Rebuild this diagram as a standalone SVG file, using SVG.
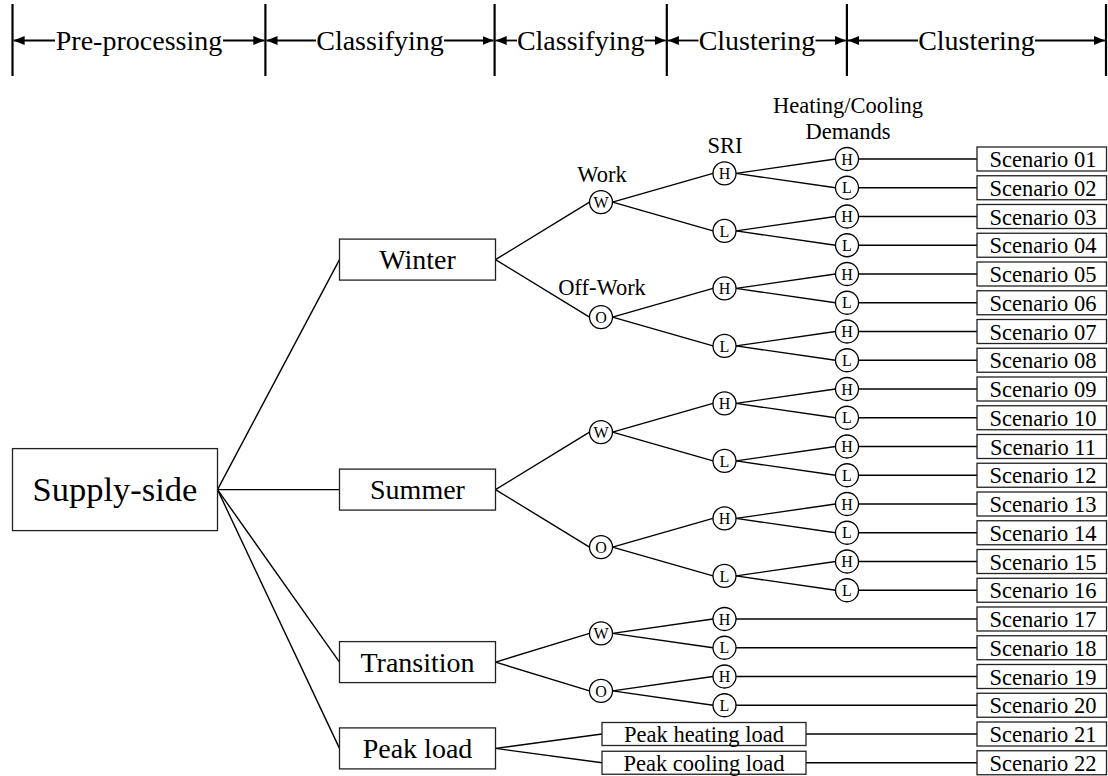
<svg xmlns="http://www.w3.org/2000/svg" width="1108" height="776" viewBox="0 0 1108 776">
<style>
.t{font-family:"Liberation Serif","Times New Roman",serif;fill:#000;text-anchor:middle}
.h{font-size:28px}
.s{font-size:28px}
.big{font-size:34.5px}
.m{font-size:22.5px}
.cl{font-size:16px}
.box{fill:#fff;stroke:#222;stroke-width:1.3}
.c{fill:#fff;stroke:#000;stroke-width:1.3}
.ln{stroke:#000;stroke-width:1.4;fill:none}
.vl{stroke:#000;stroke-width:2.2}
.ar{stroke:#000;stroke-width:1.8;marker-end:url(#ah)}
</style>
<defs>
<marker id="ah" markerUnits="userSpaceOnUse" markerWidth="12" markerHeight="9" refX="11" refY="4.5" orient="auto"><path d="M0,0 L11,4.5 L0,9 z" fill="#000"/></marker>
</defs>
<rect width="1108" height="776" fill="#fff"/>

<g id="header">
<line class="vl" x1="12.5" y1="4" x2="12.5" y2="76"/>
<line class="vl" x1="265.4" y1="4" x2="265.4" y2="76"/>
<line class="vl" x1="494.6" y1="4" x2="494.6" y2="76"/>
<line class="vl" x1="666.8" y1="4" x2="666.8" y2="76"/>
<line class="vl" x1="846.9" y1="4" x2="846.9" y2="76"/>
<line class="vl" x1="1106" y1="4" x2="1106" y2="76"/>
<line class="ar" x1="55" y1="40.5" x2="13.6" y2="40.5"/>
<line class="ar" x1="223" y1="40.5" x2="264.3" y2="40.5"/>
<text class="t h" x="139" y="50">Pre-processing</text>
<line class="ar" x1="316" y1="40.5" x2="266.5" y2="40.5"/>
<line class="ar" x1="444" y1="40.5" x2="493.5" y2="40.5"/>
<text class="t h" x="380" y="50">Classifying</text>
<line class="ar" x1="517" y1="40.5" x2="495.7" y2="40.5"/>
<line class="ar" x1="644.5" y1="40.5" x2="665.7" y2="40.5"/>
<text class="t h" x="580.7" y="50">Classifying</text>
<line class="ar" x1="698.5" y1="40.5" x2="667.9" y2="40.5"/>
<line class="ar" x1="815.5" y1="40.5" x2="845.8" y2="40.5"/>
<text class="t h" x="757" y="50">Clustering</text>
<line class="ar" x1="918" y1="40.5" x2="848" y2="40.5"/>
<line class="ar" x1="1035" y1="40.5" x2="1104.9" y2="40.5"/>
<text class="t h" x="976.5" y="50">Clustering</text>
</g>

<g id="labels">
<text class="t m" x="602" y="181.5">Work</text>
<text class="t m" x="602" y="295">Off-Work</text>
<text class="t m" x="725" y="152.5">SRI</text>
<text class="t m" x="848" y="113">Heating/Cooling</text>
<text class="t m" x="848" y="139.3">Demands</text>
</g>

<g id="connectors" class="ln">
<line x1="217.5" y1="489.6" x2="339.5" y2="259.6"/>
<line x1="217.5" y1="489.6" x2="339.5" y2="489.6"/>
<line x1="217.5" y1="489.6" x2="339.5" y2="662.1"/>
<line x1="217.5" y1="489.6" x2="339.5" y2="748.4"/>

<line x1="495.5" y1="259.6" x2="589.5" y2="202.1"/>
<line x1="495.5" y1="259.6" x2="589.5" y2="317.1"/>
<line x1="495.5" y1="489.6" x2="589.5" y2="432.1"/>
<line x1="495.5" y1="489.6" x2="589.5" y2="547.1"/>
<line x1="495.5" y1="662.1" x2="589.5" y2="633.4"/>
<line x1="495.5" y1="662.1" x2="589.5" y2="690.9"/>
<line x1="495.5" y1="748.4" x2="602" y2="734"/>
<line x1="495.5" y1="748.4" x2="602" y2="762.75"/>

<line x1="612.5" y1="202.1" x2="713" y2="173.4"/>
<line x1="612.5" y1="202.1" x2="713" y2="230.9"/>
<line x1="612.5" y1="317.1" x2="713" y2="288.4"/>
<line x1="612.5" y1="317.1" x2="713" y2="345.9"/>
<line x1="612.5" y1="432.1" x2="713" y2="403.4"/>
<line x1="612.5" y1="432.1" x2="713" y2="460.9"/>
<line x1="612.5" y1="547.1" x2="713" y2="518.4"/>
<line x1="612.5" y1="547.1" x2="713" y2="575.9"/>
<line x1="612.5" y1="633.4" x2="713" y2="619"/>
<line x1="612.5" y1="633.4" x2="713" y2="647.75"/>
<line x1="612.5" y1="690.9" x2="713" y2="676.5"/>
<line x1="612.5" y1="690.9" x2="713" y2="705.25"/>

<line x1="736" y1="173.4" x2="835.5" y2="159"/>
<line x1="736" y1="173.4" x2="835.5" y2="187.75"/>
<line x1="736" y1="230.9" x2="835.5" y2="216.5"/>
<line x1="736" y1="230.9" x2="835.5" y2="245.25"/>
<line x1="736" y1="288.4" x2="835.5" y2="274"/>
<line x1="736" y1="288.4" x2="835.5" y2="302.75"/>
<line x1="736" y1="345.9" x2="835.5" y2="331.5"/>
<line x1="736" y1="345.9" x2="835.5" y2="360.25"/>
<line x1="736" y1="403.4" x2="835.5" y2="389"/>
<line x1="736" y1="403.4" x2="835.5" y2="417.75"/>
<line x1="736" y1="460.9" x2="835.5" y2="446.5"/>
<line x1="736" y1="460.9" x2="835.5" y2="475.25"/>
<line x1="736" y1="518.4" x2="835.5" y2="504"/>
<line x1="736" y1="518.4" x2="835.5" y2="532.75"/>
<line x1="736" y1="575.9" x2="835.5" y2="561.5"/>
<line x1="736" y1="575.9" x2="835.5" y2="590.25"/>

<line x1="858.5" y1="159" x2="977" y2="159"/>
<line x1="858.5" y1="187.75" x2="977" y2="187.75"/>
<line x1="858.5" y1="216.5" x2="977" y2="216.5"/>
<line x1="858.5" y1="245.25" x2="977" y2="245.25"/>
<line x1="858.5" y1="274" x2="977" y2="274"/>
<line x1="858.5" y1="302.75" x2="977" y2="302.75"/>
<line x1="858.5" y1="331.5" x2="977" y2="331.5"/>
<line x1="858.5" y1="360.25" x2="977" y2="360.25"/>
<line x1="858.5" y1="389" x2="977" y2="389"/>
<line x1="858.5" y1="417.75" x2="977" y2="417.75"/>
<line x1="858.5" y1="446.5" x2="977" y2="446.5"/>
<line x1="858.5" y1="475.25" x2="977" y2="475.25"/>
<line x1="858.5" y1="504" x2="977" y2="504"/>
<line x1="858.5" y1="532.75" x2="977" y2="532.75"/>
<line x1="858.5" y1="561.5" x2="977" y2="561.5"/>
<line x1="858.5" y1="590.25" x2="977" y2="590.25"/>
<line x1="736" y1="619" x2="977" y2="619"/>
<line x1="736" y1="647.75" x2="977" y2="647.75"/>
<line x1="736" y1="676.5" x2="977" y2="676.5"/>
<line x1="736" y1="705.25" x2="977" y2="705.25"/>
<line x1="806" y1="734" x2="977" y2="734"/>
<line x1="806" y1="762.75" x2="977" y2="762.75"/>
</g>

<g id="supply-side"><rect class="box" x="12.5" y="448.6" width="205" height="82"/><text class="t big" x="115" y="501">Supply-side</text></g>
<g id="winter"><rect class="box" x="339.5" y="239.1" width="156" height="41"/><text class="t s" x="417.5" y="269.2">Winter</text></g>
<g id="summer"><rect class="box" x="339.5" y="469.1" width="156" height="41"/><text class="t s" x="417.5" y="499.2">Summer</text></g>
<g id="transition"><rect class="box" x="339.5" y="641.6" width="156" height="41"/><text class="t s" x="417.5" y="671.7">Transition</text></g>
<g id="peak-load"><rect class="box" x="339.5" y="727.9" width="156" height="41"/><text class="t s" x="417.5" y="758">Peak load</text></g>

<g id="peak-heating"><rect class="box" x="602" y="722.5" width="204" height="23"/><text class="t m" x="704" y="741.8">Peak heating load</text></g>
<g id="peak-cooling"><rect class="box" x="602" y="751.25" width="204" height="23"/><text class="t m" x="704" y="770.5">Peak cooling load</text></g>

<g id="winter-w"><circle class="c" cx="601" cy="202.1" r="11.5"/><text class="t cl" x="601" y="207.8">W</text></g>
<g id="winter-o"><circle class="c" cx="601" cy="317.1" r="11.5"/><text class="t cl" x="601" y="322.8">O</text></g>
<g id="summer-w"><circle class="c" cx="601" cy="432.1" r="11.5"/><text class="t cl" x="601" y="437.8">W</text></g>
<g id="summer-o"><circle class="c" cx="601" cy="547.1" r="11.5"/><text class="t cl" x="601" y="552.8">O</text></g>
<g id="transition-w"><circle class="c" cx="601" cy="633.4" r="11.5"/><text class="t cl" x="601" y="639.1">W</text></g>
<g id="transition-o"><circle class="c" cx="601" cy="690.9" r="11.5"/><text class="t cl" x="601" y="696.6">O</text></g>

<g id="sri-1"><circle class="c" cx="724.5" cy="173.4" r="11.5"/><text class="t cl" x="724.5" y="179.1">H</text></g>
<g id="sri-2"><circle class="c" cx="724.5" cy="230.9" r="11.5"/><text class="t cl" x="724.5" y="236.6">L</text></g>
<g id="sri-3"><circle class="c" cx="724.5" cy="288.4" r="11.5"/><text class="t cl" x="724.5" y="294.1">H</text></g>
<g id="sri-4"><circle class="c" cx="724.5" cy="345.9" r="11.5"/><text class="t cl" x="724.5" y="351.6">L</text></g>
<g id="sri-5"><circle class="c" cx="724.5" cy="403.4" r="11.5"/><text class="t cl" x="724.5" y="409.1">H</text></g>
<g id="sri-6"><circle class="c" cx="724.5" cy="460.9" r="11.5"/><text class="t cl" x="724.5" y="466.6">L</text></g>
<g id="sri-7"><circle class="c" cx="724.5" cy="518.4" r="11.5"/><text class="t cl" x="724.5" y="524.1">H</text></g>
<g id="sri-8"><circle class="c" cx="724.5" cy="575.9" r="11.5"/><text class="t cl" x="724.5" y="581.6">L</text></g>
<g id="sri-9"><circle class="c" cx="724.5" cy="619" r="11.5"/><text class="t cl" x="724.5" y="624.7">H</text></g>
<g id="sri-10"><circle class="c" cx="724.5" cy="647.75" r="11.5"/><text class="t cl" x="724.5" y="653.45">L</text></g>
<g id="sri-11"><circle class="c" cx="724.5" cy="676.5" r="11.5"/><text class="t cl" x="724.5" y="682.2">H</text></g>
<g id="sri-12"><circle class="c" cx="724.5" cy="705.25" r="11.5"/><text class="t cl" x="724.5" y="710.95">L</text></g>

<g id="dem-1"><circle class="c" cx="847" cy="159" r="11.5"/><text class="t cl" x="847" y="164.7">H</text></g>
<g id="dem-2"><circle class="c" cx="847" cy="187.75" r="11.5"/><text class="t cl" x="847" y="193.45">L</text></g>
<g id="dem-3"><circle class="c" cx="847" cy="216.5" r="11.5"/><text class="t cl" x="847" y="222.2">H</text></g>
<g id="dem-4"><circle class="c" cx="847" cy="245.25" r="11.5"/><text class="t cl" x="847" y="250.95">L</text></g>
<g id="dem-5"><circle class="c" cx="847" cy="274" r="11.5"/><text class="t cl" x="847" y="279.7">H</text></g>
<g id="dem-6"><circle class="c" cx="847" cy="302.75" r="11.5"/><text class="t cl" x="847" y="308.45">L</text></g>
<g id="dem-7"><circle class="c" cx="847" cy="331.5" r="11.5"/><text class="t cl" x="847" y="337.2">H</text></g>
<g id="dem-8"><circle class="c" cx="847" cy="360.25" r="11.5"/><text class="t cl" x="847" y="365.95">L</text></g>
<g id="dem-9"><circle class="c" cx="847" cy="389" r="11.5"/><text class="t cl" x="847" y="394.7">H</text></g>
<g id="dem-10"><circle class="c" cx="847" cy="417.75" r="11.5"/><text class="t cl" x="847" y="423.45">L</text></g>
<g id="dem-11"><circle class="c" cx="847" cy="446.5" r="11.5"/><text class="t cl" x="847" y="452.2">H</text></g>
<g id="dem-12"><circle class="c" cx="847" cy="475.25" r="11.5"/><text class="t cl" x="847" y="480.95">L</text></g>
<g id="dem-13"><circle class="c" cx="847" cy="504" r="11.5"/><text class="t cl" x="847" y="509.7">H</text></g>
<g id="dem-14"><circle class="c" cx="847" cy="532.75" r="11.5"/><text class="t cl" x="847" y="538.45">L</text></g>
<g id="dem-15"><circle class="c" cx="847" cy="561.5" r="11.5"/><text class="t cl" x="847" y="567.2">H</text></g>
<g id="dem-16"><circle class="c" cx="847" cy="590.25" r="11.5"/><text class="t cl" x="847" y="595.95">L</text></g>

<g id="scenario-01"><rect class="box" x="977" y="147" width="129.5" height="24"/><text class="t m" x="1043" y="167">Scenario 01</text></g>
<g id="scenario-02"><rect class="box" x="977" y="175.75" width="129.5" height="24"/><text class="t m" x="1043" y="195.75">Scenario 02</text></g>
<g id="scenario-03"><rect class="box" x="977" y="204.5" width="129.5" height="24"/><text class="t m" x="1043" y="224.5">Scenario 03</text></g>
<g id="scenario-04"><rect class="box" x="977" y="233.25" width="129.5" height="24"/><text class="t m" x="1043" y="253.25">Scenario 04</text></g>
<g id="scenario-05"><rect class="box" x="977" y="262" width="129.5" height="24"/><text class="t m" x="1043" y="282">Scenario 05</text></g>
<g id="scenario-06"><rect class="box" x="977" y="290.75" width="129.5" height="24"/><text class="t m" x="1043" y="310.75">Scenario 06</text></g>
<g id="scenario-07"><rect class="box" x="977" y="319.5" width="129.5" height="24"/><text class="t m" x="1043" y="339.5">Scenario 07</text></g>
<g id="scenario-08"><rect class="box" x="977" y="348.25" width="129.5" height="24"/><text class="t m" x="1043" y="368.25">Scenario 08</text></g>
<g id="scenario-09"><rect class="box" x="977" y="377" width="129.5" height="24"/><text class="t m" x="1043" y="397">Scenario 09</text></g>
<g id="scenario-10"><rect class="box" x="977" y="405.75" width="129.5" height="24"/><text class="t m" x="1043" y="425.75">Scenario 10</text></g>
<g id="scenario-11"><rect class="box" x="977" y="434.5" width="129.5" height="24"/><text class="t m" x="1043" y="454.5">Scenario 11</text></g>
<g id="scenario-12"><rect class="box" x="977" y="463.25" width="129.5" height="24"/><text class="t m" x="1043" y="483.25">Scenario 12</text></g>
<g id="scenario-13"><rect class="box" x="977" y="492" width="129.5" height="24"/><text class="t m" x="1043" y="512">Scenario 13</text></g>
<g id="scenario-14"><rect class="box" x="977" y="520.75" width="129.5" height="24"/><text class="t m" x="1043" y="540.75">Scenario 14</text></g>
<g id="scenario-15"><rect class="box" x="977" y="549.5" width="129.5" height="24"/><text class="t m" x="1043" y="569.5">Scenario 15</text></g>
<g id="scenario-16"><rect class="box" x="977" y="578.25" width="129.5" height="24"/><text class="t m" x="1043" y="598.25">Scenario 16</text></g>
<g id="scenario-17"><rect class="box" x="977" y="607" width="129.5" height="24"/><text class="t m" x="1043" y="627">Scenario 17</text></g>
<g id="scenario-18"><rect class="box" x="977" y="635.75" width="129.5" height="24"/><text class="t m" x="1043" y="655.75">Scenario 18</text></g>
<g id="scenario-19"><rect class="box" x="977" y="664.5" width="129.5" height="24"/><text class="t m" x="1043" y="684.5">Scenario 19</text></g>
<g id="scenario-20"><rect class="box" x="977" y="693.25" width="129.5" height="24"/><text class="t m" x="1043" y="713.25">Scenario 20</text></g>
<g id="scenario-21"><rect class="box" x="977" y="722" width="129.5" height="24"/><text class="t m" x="1043" y="742">Scenario 21</text></g>
<g id="scenario-22"><rect class="box" x="977" y="750.75" width="129.5" height="24"/><text class="t m" x="1043" y="770.75">Scenario 22</text></g>
</svg>
